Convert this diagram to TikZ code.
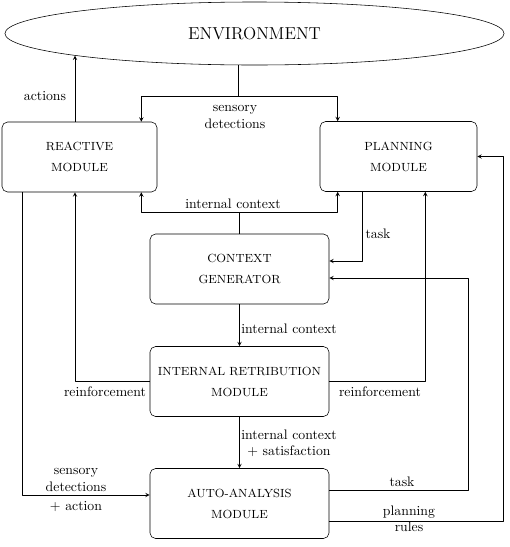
\documentclass[tikz,border=0pt]{standalone}
\usetikzlibrary{shapes.geometric,calc}
\begin{document}
\begin{tikzpicture}[x=0.025cm,y=-0.025cm,>=stealth,line join=round,line cap=round,font=\normalsize,
	module/.style={draw,rounded corners=4pt,align=center,minimum height=1.75cm,font=\fontsize{8.4}{15}\selectfont},
	lbl/.style={align=center,inner sep=1pt,font=\fontsize{9.8}{11.5}\selectfont}]
			\useasboundingbox (0,0) rectangle (509,547);
			\node[draw,ellipse,minimum width=12.475cm,minimum height=1.575cm,font=\fontsize{12.3}{14}\selectfont] (env) at (254.5,33.5) {ENVIRONMENT};
			\node[module,minimum width=3.875cm] (react) at (79.5,157) {REACTIVE\\MODULE};
			\node[module,minimum width=3.925cm] (plan) at (398.5,156.5) {PLANNING\\MODULE};
			\node[module,minimum width=4.475cm] (ctx) at (239.5,269) {CONTEXT\\GENERATOR};
			\node[module,minimum width=4.475cm] (retrib) at (239.5,381.5) {INTERNAL RETRIBUTION\\MODULE};
			\node[module,minimum width=4.475cm] (auto) at (239.5,503.5) {AUTO-ANALYSIS\\MODULE};
			
			% environment and the two upper modules
			\coordinate (act) at ($(react.north)+(-4.5,0)$);
			\draw[->] (act) -- (act |- env.187);
			\coordinate (split) at (238,96);
			\draw (split |- env.south) -- (split);
			\draw[->] (split) -| ($(react.north east)+(-16,0)$);
			\draw[->] (split) -| ($(plan.north west)+(18,0)$);
			
			% context generator
			\draw (ctx.north) -- ++(0,-21) coordinate (ic);
			\draw[->] (ic) -| ($(react.south east)+(-16,0)$);
			\draw[->] (ic) -| ($(plan.south west)+(18,0)$);
			\draw[->] ($(plan.south west)+(43,0)$) |- ($(ctx.east)+(0,-8)$);
			\draw[->] (ctx.south) -- (retrib.north);
			
			% retribution
			\draw[->] (retrib.west) -| ($(react.south)+(-4.5,0)$);
			\draw[->] (retrib.east) -| ($(plan.south east)+(-52,0)$);
			\draw[->] (retrib.south) -- (auto.north);
			
			% auto-analysis
			\draw[->] ($(react.south west)+(21,0)$) |- ($(auto.west)+(0,-8.5)$);
			\draw[->] ($(auto.east)+(0,-13)$) -- ++(139,0) |- ($(ctx.east)+(0,9)$);
			\draw[->] ($(auto.east)+(0,18)$) -- ++(174,0) |- (plan.east);
			
			\foreach \p/\t in {{(45,96)}/actions,{(235,117)}/{sensory\\detections},{(233,204)}/internal context,
				{(378,234)}/task,{(289,329)}/internal context,{(105,392)}/reinforcement,{(380,392)}/reinforcement,
				{(289,443)}/{internal context\\+ satisfaction},{(76,480)}/{sensory\\detections},{(76,507)}/+ action,
				{(402,482)}/task,{(409,519)}/{planning\\rules}}
			\node[lbl] at \p {\t};
\end{tikzpicture}
\end{document}
